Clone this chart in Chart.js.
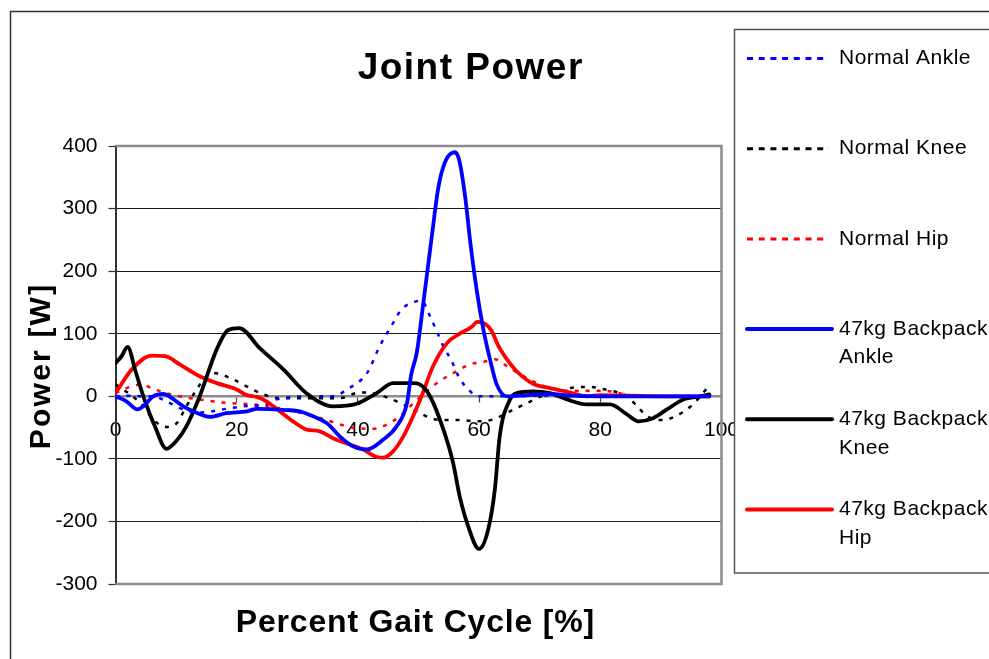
<!DOCTYPE html>
<html>
<head>
<meta charset="utf-8">
<title>Joint Power</title>
<script src="https://cdn.jsdelivr.net/npm/chart.js@4.4.1/dist/chart.umd.min.js"></script>
<style>
  html, body { margin: 0; padding: 0; background: #ffffff; }
  canvas { display: block; }
</style>
</head>
<body>
<canvas id="power" width="989" height="659"></canvas>
<script>
// ---- Joint power over the gait cycle (percent of cycle vs. watts) ----

// Normal walking
const normAnkleX = [0, 2.4, 4.6, 6.2, 8.4, 10.6, 13.9, 18.3, 21.2, 24.9, 26.6, 28.3, 31.5, 35.9, 38.2, 41.5, 43.6, 45.8, 47.2, 49.1, 50.5, 51.9, 53.1, 54.1, 55.5, 56.6, 58.2, 60, 65, 70, 75, 80, 85, 90, 95, 98];
const normAnkleY = [0, 1, 0, 0, -8, -19, -26, -20, -16, -13, -5, -2, 0, 0, 11, 37, 80, 117, 139, 150, 153, 128, 102, 80, 56, 32, 11, 0, 0, 1, 0, 0, 0, 0, 0, 0];

const normKneeX = [0, 2.4, 4.6, 6.2, 8.4, 10.1, 11.7, 13.4, 15, 16.4, 19.4, 22.2, 24.4, 27, 32, 37, 40.3, 42.5, 45.1, 48.1, 50.2, 52.4, 54.7, 56.9, 59.6, 62.3, 65.1, 67.9, 70, 72.3, 74.5, 76.7, 78.3, 80.2, 82.2, 84.4, 86, 87.9, 90.4, 92.6, 94.8, 96.5, 97.6];
const normKneeY = [19, 3, -16, -37, -49, -43, -16, 11, 32, 37, 27, 13, 3, -3, -3, -3, 6, 5, -3, -16, -27, -36, -38, -38, -40, -37, -24, -11, -1, 5, 12, 15, 15, 12, 8, 0, -15, -33, -38, -31, -17, 0, 13];

const normHipX = [0, 1.8, 4.3, 6.2, 8.4, 10.6, 12.3, 14.5, 16.7, 20.5, 22.7, 24.9, 28.3, 31.5, 34.3, 37, 39.8, 42.5, 44.8, 46.9, 48.6, 50.8, 53, 56.3, 58.5, 60.7, 62.6, 64.6, 66.8, 68.9, 71.2, 74.5, 78.3, 80.5, 82.7, 84.4, 88, 92, 96, 98];
const normHipY = [5, 13, 19, 12, 5, 0, -3, -6, -9, -12, -13, -16, -21, -29, -36, -45, -51, -52, -45, -32, -16, 3, 21, 40, 51, 55, 59, 48, 35, 24, 15, 9, 9, 9, 6, 2, 0, 0, 0, 0];

// Walking with a 47 kg backpack
const packAnkleX = [0, 1.8, 3.6, 4.6, 6.2, 7.9, 9.3, 11.2, 12.8, 15.6, 18.3, 21.7, 23.3, 28.3, 30.4, 32.6, 34.9, 37, 39.2, 41.5, 44.2, 46.4, 48.1, 48.8, 49.7, 50.8, 52.2, 53.3, 54.4, 56, 56.7, 57.7, 58.5, 59.6, 60.7, 61.8, 62.9, 64.6, 68, 71.7, 75, 80, 85, 90, 95, 98];
const packAnkleY = [0, -8, -21, -16, 0, 4, -3, -16, -24, -33, -27, -24, -20, -22, -24, -32, -43, -64, -80, -85, -69, -48, -11, 35, 69, 149, 256, 335, 375, 390, 378, 319, 250, 170, 107, 59, 19, 0, 2, 4, 1, 0, 0, 0, 0, 0];

const packKneeX = [0, 1, 2, 3.3, 4.6, 6.5, 8.4, 10, 11.7, 13.9, 16.7, 18.6, 20.4, 23.8, 27.7, 31.5, 35.9, 39.8, 43.1, 45.8, 49.1, 50.2, 51.9, 54.1, 55.7, 56.8, 58, 60, 61.5, 62.6, 63.4, 65.1, 66.2, 68.9, 71.7, 74.5, 77.8, 81.6, 84.4, 86.3, 88.7, 91, 93.7, 96.5, 98];
const packKneeY = [53, 64, 79, 40, 0, -48, -84, -72, -48, 0, 75, 106, 109, 77, 43, 5, -16, -12, 5, 21, 21, 19, 0, -53, -106, -160, -202, -244, -213, -149, -64, -5, 5, 8, 5, -5, -13, -13, -29, -40, -35, -21, -5, 0, 3];

const packHipX = [0, 2.7, 6, 8.2, 10.6, 13.9, 16.7, 20, 21.6, 23.3, 24.9, 27.1, 29.3, 31.5, 33.7, 35.9, 38.7, 40.9, 43.1, 44.2, 45.8, 47.5, 49.1, 50.5, 52.4, 54.7, 56.8, 58.8, 59.7, 61, 62.1, 63.2, 64.6, 66.2, 68.9, 71.7, 74.5, 77.8, 80, 85, 90, 95, 98];
const packHipY = [5, 43, 65, 64, 51, 32, 21, 11, 2, -1, -8, -24, -40, -53, -56, -67, -77, -85, -97, -98, -88, -64, -32, 0, 48, 85, 100, 111, 119, 116, 104, 80, 59, 40, 20, 13, 7, 0, 2, 1, 0, 0, 0];

// Axis ranges and labels
const xRange = [0, 100];
const xStep = 20;
const yRange = [-300, 400];
const yStep = 100;
const titleText = 'Joint Power';
const xTitleText = 'Percent Gait Cycle [%]';
const yTitleText = 'Power [W]';

const FONT = "'Liberation Sans', Arial, Helvetica, sans-serif";
const BLUE = '#0000ff', BLACK = '#000000', RED = '#ff0000';

function pts(xs, ys) { return xs.map((x, i) => ({ x: x, y: ys[i] })); }

function normalSeries(label, color, xs, ys) {
  return {
    label: label, data: pts(xs, ys), borderColor: color, backgroundColor: color,
    borderWidth: 2.5, borderDash: [4, 7], pointRadius: 0, fill: false,
    cubicInterpolationMode: 'monotone', order: 2, legendStyle: 'dash'
  };
}
function packSeries(label, color, xs, ys) {
  return {
    label: label, data: pts(xs, ys), borderColor: color, backgroundColor: color,
    borderWidth: 3.8, pointRadius: 0, fill: false, borderJoinStyle: 'round',
    borderCapStyle: 'round', cubicInterpolationMode: 'monotone', order: 1, legendStyle: 'solid'
  };
}

const datasets = [
  normalSeries('Normal Ankle', BLUE, normAnkleX, normAnkleY),
  normalSeries('Normal Knee', BLACK, normKneeX, normKneeY),
  normalSeries('Normal Hip', RED, normHipX, normHipY),
  packSeries('47kg Backpack Ankle', BLUE, packAnkleX, packAnkleY),
  packSeries('47kg Backpack Knee', BLACK, packKneeX, packKneeY),
  packSeries('47kg Backpack Hip', RED, packHipX, packHipY)
];

function spacedText(ctx, text, x, y, spacing) {
  ctx.letterSpacing = spacing + 'px';
  const w = ctx.measureText(text).width - spacing;
  ctx.textAlign = 'left';
  ctx.fillText(text, x - w / 2, y);
  ctx.letterSpacing = '0px';
}

function wrapWords(ctx, text, maxWidth) {
  const words = text.split(' ');
  const lines = [];
  let line = '';
  words.forEach(w => {
    const test = line ? line + ' ' + w : w;
    if (line && ctx.measureText(test).width > maxWidth) { lines.push(line); line = w; }
    else line = test;
  });
  if (line) lines.push(line);
  return lines;
}

const frame = {
  id: 'frame',
  beforeDraw(chart) {
    const ctx = chart.ctx;
    ctx.save();
    ctx.fillStyle = '#ffffff';
    ctx.fillRect(0, 0, chart.width, chart.height);
    ctx.restore();
  },
  beforeDatasetsDraw(chart) {
    const { ctx, chartArea: a } = chart;
    ctx.save();
    // plot area edge (top, right, bottom)
    ctx.strokeStyle = '#8c8c8c';
    ctx.lineWidth = 2.5;
    ctx.beginPath();
    ctx.moveTo(a.left, a.top);
    ctx.lineTo(a.right, a.top);
    ctx.lineTo(a.right, a.bottom);
    ctx.lineTo(a.left, a.bottom);
    ctx.stroke();
    ctx.restore();
  },
  afterDraw(chart) {
    const ctx = chart.ctx;
    ctx.save();
    // outer chart frame
    ctx.strokeStyle = '#333333';
    ctx.lineWidth = 1.5;
    ctx.strokeRect(10.5, 11.5, 1200, 1200);

    // titles
    ctx.fillStyle = '#000000';
    ctx.textBaseline = 'alphabetic';
    ctx.font = 'bold 37px ' + FONT;
    spacedText(ctx, titleText, 470, 79, 1.5);
    ctx.font = 'bold 32px ' + FONT;
    spacedText(ctx, xTitleText, 415, 632, 0.8);
    ctx.save();
    ctx.translate(50, 367);
    ctx.rotate(-Math.PI / 2);
    ctx.font = 'bold 30px ' + FONT;
    spacedText(ctx, yTitleText, 0, 0, 2.2);
    ctx.restore();

    // legend box
    const bx = 734.5, by = 29.5, bh = 543.5;
    ctx.fillStyle = '#ffffff';
    ctx.fillRect(bx, by, 400, bh);
    ctx.strokeStyle = '#555555';
    ctx.lineWidth = 1.5;
    ctx.strokeRect(bx, by, 400, bh);

    ctx.font = '21px ' + FONT;
    ctx.textBaseline = 'middle';
    ctx.textAlign = 'left';
    chart.data.datasets.forEach((ds, i) => {
      const y0 = 58.5 + i * 90.2;
      ctx.save();
      ctx.strokeStyle = ds.borderColor;
      if (ds.legendStyle === 'dash') {
        ctx.lineWidth = 3;
        ctx.setLineDash([6, 5.7]);
        ctx.lineCap = 'butt';
        ctx.beginPath();
        ctx.moveTo(747, y0);
        ctx.lineTo(829, y0);
        ctx.stroke();
      } else {
        ctx.lineWidth = 4;
        ctx.lineCap = 'round';
        ctx.beginPath();
        ctx.moveTo(747, y0);
        ctx.lineTo(832, y0);
        ctx.stroke();
      }
      ctx.restore();
      ctx.fillStyle = '#000000';
      const lines = wrapWords(ctx, ds.label, 160);
      ctx.letterSpacing = '0.5px';
      lines.forEach((ln, k) => ctx.fillText(ln, 839, y0 + k * 28.5));
      ctx.letterSpacing = '0px';
    });
    ctx.restore();
  }
};

new Chart(document.getElementById('power'), {
  type: 'line',
  data: { datasets: datasets },
  options: {
    responsive: false,
    animation: false,
    devicePixelRatio: 1,
    layout: { padding: { left: 0, top: 146, right: 267.5, bottom: 75 } },
    plugins: { legend: { display: false }, title: { display: false }, tooltip: { enabled: false } },
    elements: { line: { tension: 0 } },
    scales: {
      x: {
        type: 'linear',
        position: { y: 0 },
        min: xRange[0], max: xRange[1],
        ticks: { stepSize: xStep, color: '#000000', padding: 16, maxRotation: 0,
                 font: { family: FONT, size: 21 } },
        grid: { display: true, drawOnChartArea: false, drawTicks: true, tickLength: 5,
                tickColor: '#444444', tickWidth: 1.2 },
        border: { display: true, color: '#8c8c8c', width: 2.5 }
      },
      y: {
        type: 'linear',
        position: 'left',
        min: yRange[0], max: yRange[1],
        afterFit(scale) { scale.width = 115.5; },
        ticks: { stepSize: yStep, color: '#000000', padding: 11,
                 font: { family: FONT, size: 21 } },
        grid: {
          color: c => (c.tick && (c.tick.value === 0 || c.tick.value === yRange[1] || c.tick.value === yRange[0])) ? 'rgba(0,0,0,0)' : '#1a1a1a',
          lineWidth: 1,
          tickLength: 7,
          tickColor: '#333333',
          tickWidth: 1.2
        },
        border: { display: true, color: '#333333', width: 2 }
      }
    }
  },
  plugins: [frame]
});
</script>
</body>
</html>
